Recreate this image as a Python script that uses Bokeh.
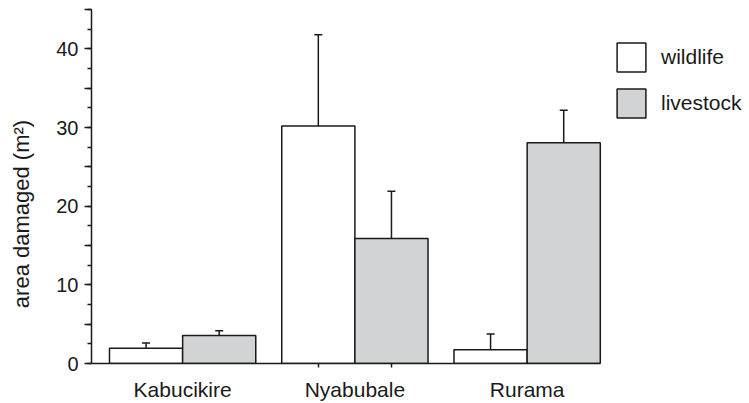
from bokeh.plotting import figure
from bokeh.models import (ColumnDataSource, Range1d, SingleIntervalTicker, FixedTicker,
                          Whisker, TeeHead, Legend, LegendItem)
from bokeh.embed import file_html
from bokeh.resources import INLINE

# ---- data ----
sites = ["Kabucikire", "Nyabubale", "Rurama"]
wildlife = [1.95, 30.2, 1.75]
wildlife_err = [0.65, 11.6, 2.0]
livestock = [3.55, 15.9, 28.05]
livestock_err = [0.6, 6.0, 4.15]
y_labelled_ticks = [0, 10, 20, 30, 40]
y_max = 45

# ---- style ----
FONT = "Liberation Sans"
INK = "#1a1a1a"
GREY = "#d2d3d5"
BAR_W = 1.0
GROUP_GAP = 0.355
X_START = -0.246
X_END = 8.75          # frame extends under the legend; x axis line is bounded
step = 2 * BAR_W + GROUP_GAP

idx = list(range(len(sites)))
wild_x = [i * step + 0.5 * BAR_W for i in idx]
live_x = [i * step + 1.5 * BAR_W for i in idx]
centers = [i * step + BAR_W for i in idx]
last_edge = (len(sites) - 1) * step + 2 * BAR_W

wild_src = ColumnDataSource(dict(x=wild_x, top=wildlife,
                                 upper=[v + e for v, e in zip(wildlife, wildlife_err)]))
live_src = ColumnDataSource(dict(x=live_x, top=livestock,
                                 upper=[v + e for v, e in zip(livestock, livestock_err)]))

p = figure(width=749, height=403, output_backend="svg", toolbar_location=None,
           x_range=Range1d(X_START, X_END), y_range=Range1d(0, y_max),
           min_border_left=91, min_border_right=0, min_border_top=9, min_border_bottom=40)
p.xgrid.visible = False
p.ygrid.visible = False
p.outline_line_color = None
p.background_fill_color = "white"
p.border_fill_color = "white"

for src in (wild_src, live_src):
    w = Whisker(base="x", lower="top", upper="upper", source=src, dimension="height",
                line_color=INK, line_width=1.5, lower_head=None,
                upper_head=TeeHead(size=8, line_color=INK, line_width=1.5))
    p.add_layout(w)

r_w = p.vbar(x="x", top="top", bottom=0, width=BAR_W, source=wild_src,
             fill_color="white", line_color=INK, line_width=1.5)
r_l = p.vbar(x="x", top="top", bottom=0, width=BAR_W, source=live_src,
             fill_color=GREY, line_color=INK, line_width=1.5)

# ---- axes ----
for ax in (p.xaxis[0], p.yaxis[0]):
    ax.axis_line_color = INK
    ax.axis_line_width = 1.5
    ax.major_tick_line_color = INK
    ax.minor_tick_line_color = INK
    ax.major_tick_line_width = 1.5
    ax.minor_tick_line_width = 1.5
    ax.major_tick_in = 0
    ax.minor_tick_in = 0
    ax.major_label_text_font = FONT
    ax.major_label_text_font_size = "20px"
    ax.major_label_text_color = INK

xa = p.xaxis[0]
xa.bounds = (X_START, last_edge)
xa.ticker = FixedTicker(ticks=centers, minor_ticks=[wild_x[1], live_x[1]])
xa.major_label_overrides = {c: s for c, s in zip(centers, sites)}
xa.major_label_text_font_size = "21px"
xa.major_tick_out = 0
xa.minor_tick_out = 4
xa.major_label_standoff = 10

ya = p.yaxis[0]
ya.ticker = SingleIntervalTicker(interval=5, num_minor_ticks=2)
ya.major_label_overrides = {t: "" for t in range(0, y_max + 1, 5) if t not in y_labelled_ticks}
ya.major_tick_out = 7
ya.minor_tick_out = 4
ya.major_label_standoff = 6
ya.axis_label = "area damaged (m²)" + "\u00a0" * 9
ya.axis_label_text_font = FONT
ya.axis_label_text_font_size = "22px"
ya.axis_label_text_font_style = "normal"
ya.axis_label_text_color = INK
ya.axis_label_standoff = 19

# ---- legend ----
legend = Legend(items=[LegendItem(label="wildlife", renderers=[r_w]),
                       LegendItem(label="livestock", renderers=[r_l])],
                location=(522, 242), glyph_width=36, glyph_height=36,
                label_standoff=12, spacing=10, padding=0, margin=0,
                border_line_color=None, background_fill_alpha=0,
                label_text_font=FONT, label_text_font_size="21px", label_text_color=INK)
p.add_layout(legend)

open("out.html", "w").write(file_html(p, INLINE))
